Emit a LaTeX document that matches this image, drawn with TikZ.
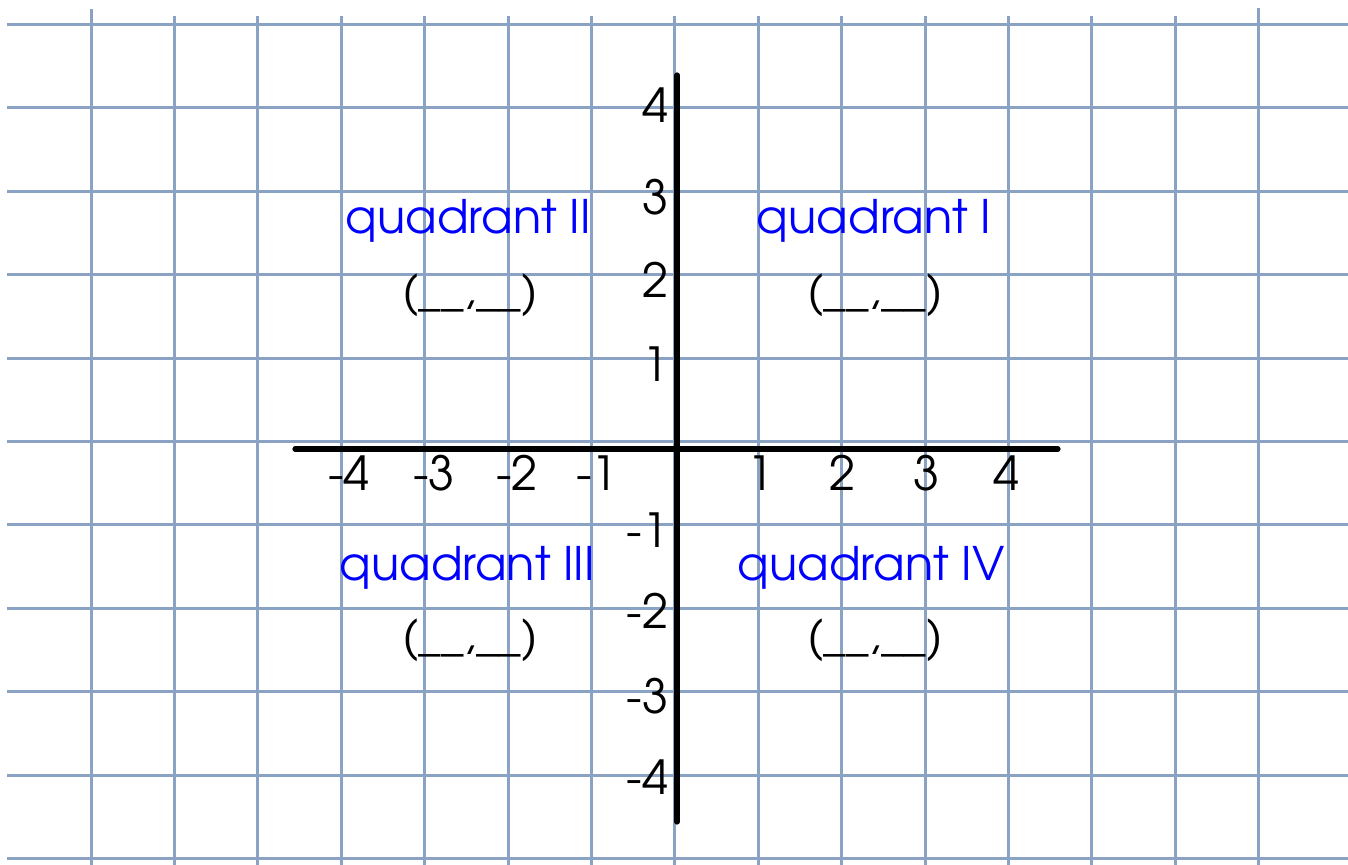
\documentclass[tikz,border=0pt]{standalone}
\usepackage{fontspec}
\setmainfont{TeX Gyre Adventor}
\definecolor{gridc}{RGB}{138,162,196}
\definecolor{qblue}{RGB}{0,0,255}
\begin{document}
\begin{tikzpicture}[x=0.5pt,y=-0.5pt,
  gridline/.style={draw=gridc,line width=1.5pt},
  axisline/.style={draw=black,line width=2.6pt,line cap=round},
  ticklab/.style={inner sep=0pt,font=\fontsize{23.5}{24}\selectfont},
  qlabel/.style={inner sep=0pt,anchor=base,text=qblue,font=\fontsize{23.1}{24}\selectfont},
  blank/.style={inner sep=0pt,anchor=center,font=\fontsize{22.5}{24}\selectfont}]
\useasboundingbox (0,0) rectangle (1348,865);
% grid
\foreach \i in {0,...,10} \draw[gridline] (7,24.5+83.4*\i) -- (1348,24.5+83.4*\i);
\foreach \i in {1,...,13} \draw[gridline] (91+83.4*\i,16) -- (91+83.4*\i,865);
\draw[gridline] (91,9) -- (91,865);
\draw[gridline] (1258.6,8) -- (1258.6,865);
% axes
\coordinate (xl) at (295,449);
\coordinate (xr) at (1058,449);
\coordinate (yt) at (677,75);
\coordinate (yb) at (677,822);
\draw[axisline] (xl) -- (xr);
\draw[axisline] (yt) -- (yb);
% x tick labels
\node[ticklab,anchor=base] (xm4) at (349,490) {-4};
\node[ticklab,anchor=base] (xm3) at (434,490) {-3};
\node[ticklab,anchor=base] (xm2) at (517,490) {-2};
\node[ticklab,anchor=base] (xm1) at (597,490) {-1};
\node[ticklab,anchor=base] (xp1) at (761,490) {1};
\node[ticklab,anchor=base] (xp2) at (843,490) {2};
\node[ticklab,anchor=base] (xp3) at (927,490) {3};
\node[ticklab,anchor=base] (xp4) at (1007,490) {4};
% y tick labels
\node[ticklab,anchor=base east] (yp4) at (669,123) {4};
\node[ticklab,anchor=base east] (yp3) at (669,215) {3};
\node[ticklab,anchor=base east] (yp2) at (669,298) {2};
\node[ticklab,anchor=base east] (yp1) at (669,382) {1};
\node[ticklab,anchor=base east] (ym1) at (669,547) {-1};
\node[ticklab,anchor=base east] (ym2) at (669,628) {-2};
\node[ticklab,anchor=base east] (ym3) at (669,713) {-3};
\node[ticklab,anchor=base east] (ym4) at (669,794) {-4};
% quadrant labels
\node[qlabel] (q2) at (468,234) {quadrant II};
\node[qlabel] (q1) at (874,234) {quadrant I};
\node[qlabel] (q3) at (467,580) {quadrant III};
\node[qlabel] (q4) at (871,580) {quadrant IV};
% blanks
\node[blank] (b2) at (470,295) {(\_\_,\_\_)};
\node[blank] (b1) at (875,295) {(\_\_,\_\_)};
\node[blank] (b3) at (470,640) {(\_\_,\_\_)};
\node[blank] (b4) at (875,640) {(\_\_,\_\_)};
\end{tikzpicture}
\end{document}
